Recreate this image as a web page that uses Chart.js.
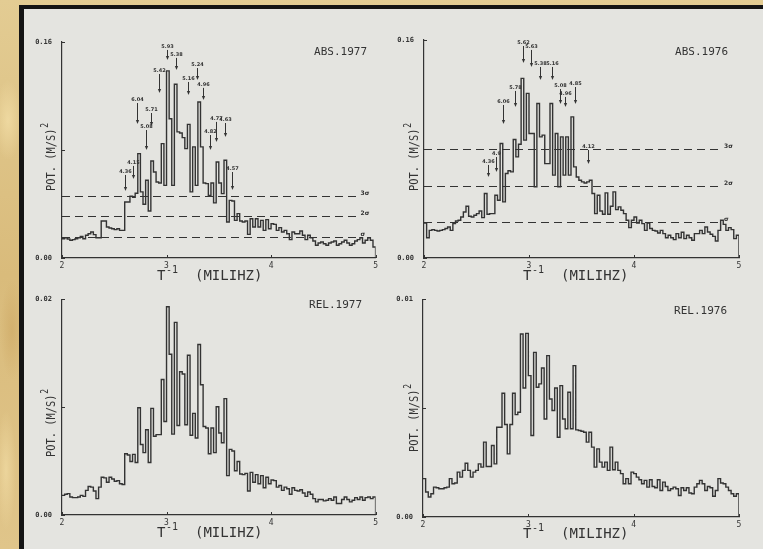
<!DOCTYPE html>
<html>
<head>
<meta charset="utf-8">
<script src="https://cdn.jsdelivr.net/npm/chart.js@4.4.1/dist/chart.umd.min.js"></script>
<style>
  html, body { margin: 0; padding: 0; }
  body {
    width: 763px; height: 549px; position: relative; overflow: hidden;
    background-color: #dcc185;
    background-image:
      radial-gradient(ellipse 14px 40px at 8px 120px, rgba(245,225,170,0.7), transparent),
      radial-gradient(ellipse 12px 50px at 12px 330px, rgba(200,160,90,0.45), transparent),
      radial-gradient(ellipse 10px 60px at 6px 470px, rgba(245,225,170,0.6), transparent),
      linear-gradient(180deg, #e3cc93 0%, #d9bb7b 50%, #e0c58a 100%);
  }
  #frame {
    position: absolute; left: 19px; top: 5px; right: 0; bottom: 0;
    background: #e4e4e0;
    border-left: 5px solid #141414; border-top: 4px solid #141414;
  }
  canvas { position: absolute; }
</style>
</head>
<body>
<div id="frame"></div>
<canvas id="abs1977" width="381" height="285" style="left:0;top:0"></canvas>
<canvas id="abs1976" width="382" height="285" style="left:381px;top:0"></canvas>
<canvas id="rel1977" width="381" height="264" style="left:0;top:285px"></canvas>
<canvas id="rel1976" width="382" height="264" style="left:381px;top:285px"></canvas>
<script>
// frequency axis, mHz: bins of 0.025 from 2 to 5
const F_START = 2, F_END = 5, BIN = 0.025;

// spectral power, one value per bin
const abs1977 = [
  0.0143,0.0150,0.0141,0.0131,0.0136,0.0143,0.0150,0.0160,0.0143,0.0168,
  0.0180,0.0193,0.0173,0.0150,0.0150,0.0274,0.0274,0.0230,0.0222,0.0217,
  0.0210,0.0217,0.0205,0.0205,0.0415,0.0415,0.0457,0.0450,0.0480,0.0773,
  0.0490,0.0398,0.0576,0.0348,0.0719,0.0637,0.0563,0.0556,0.0847,0.0538,
  0.1386,0.1032,0.0538,0.1287,0.0934,0.0926,0.0892,0.0810,0.0990,0.0490,
  0.0823,0.0538,0.1156,0.0823,0.0556,0.0551,0.0464,0.0556,0.0408,0.0711,
  0.0556,0.0477,0.0724,0.0267,0.0427,0.0422,0.0279,0.0329,0.0274,0.0267,
  0.0274,0.0175,0.0291,0.0230,0.0291,0.0230,0.0279,0.0205,0.0284,0.0217,
  0.0254,0.0249,0.0205,0.0225,0.0193,0.0205,0.0180,0.0136,0.0193,0.0180,
  0.0180,0.0200,0.0168,0.0136,0.0168,0.0150,0.0126,0.0094,0.0111,0.0119,
  0.0106,0.0094,0.0111,0.0119,0.0126,0.0094,0.0106,0.0119,0.0131,0.0111,
  0.0094,0.0106,0.0126,0.0136,0.0150,0.0111,0.0131,0.0150,0.0131,0.0082
];
const abs1976 = [
  0.0257,0.0149,0.0203,0.0208,0.0203,0.0198,0.0203,0.0208,0.0216,0.0228,
  0.0203,0.0252,0.0272,0.0277,0.0301,0.0338,0.0380,0.0306,0.0301,0.0314,
  0.0326,0.0345,0.0296,0.0473,0.0321,0.0326,0.0326,0.0461,0.0424,0.0840,
  0.0412,0.0620,0.0640,0.0632,0.0870,0.0742,0.0835,0.1318,0.0865,0.1208,
  0.0914,0.0914,0.0522,0.1134,0.0889,0.0902,0.0693,0.0693,0.1134,0.0608,
  0.0914,0.0522,0.0889,0.0608,0.0889,0.0608,0.1036,0.0669,0.0595,0.0571,
  0.0559,0.0551,0.0559,0.0571,0.0473,0.0326,0.0461,0.0345,0.0321,0.0478,
  0.0321,0.0380,0.0485,0.0355,0.0375,0.0350,0.0326,0.0277,0.0223,0.0277,
  0.0301,0.0257,0.0277,0.0252,0.0203,0.0257,0.0216,0.0203,0.0198,0.0184,
  0.0203,0.0179,0.0149,0.0167,0.0149,0.0135,0.0179,0.0149,0.0189,0.0142,
  0.0167,0.0149,0.0130,0.0179,0.0179,0.0203,0.0179,0.0228,0.0191,0.0174,
  0.0159,0.0125,0.0203,0.0277,0.0247,0.0203,0.0223,0.0208,0.0142,0.0167
];
const rel1977 = [
  0.00182,0.00192,0.00198,0.00167,0.00161,0.00161,0.00167,0.00182,0.00173,0.00228,
  0.00264,0.00258,0.00222,0.00152,0.00258,0.00350,0.00344,0.00304,0.00350,0.00334,
  0.00313,0.00319,0.00289,0.00283,0.00568,0.00556,0.00496,0.00562,0.00486,0.00994,
  0.00654,0.00578,0.00790,0.00486,0.00988,0.00730,0.00745,0.00745,0.01256,0.00866,
  0.01930,0.01490,0.00750,0.01785,0.00830,0.01328,0.01307,0.00836,0.01480,0.00739,
  0.00942,0.00714,0.01580,0.01207,0.00820,0.00806,0.00568,0.00806,0.00578,0.01003,
  0.00760,0.00669,0.01079,0.00365,0.00608,0.00593,0.00410,0.00496,0.00380,0.00374,
  0.00386,0.00222,0.00395,0.00304,0.00374,0.00289,0.00365,0.00252,0.00350,0.00289,
  0.00325,0.00319,0.00258,0.00274,0.00228,0.00258,0.00243,0.00192,0.00252,0.00228,
  0.00222,0.00234,0.00204,0.00173,0.00213,0.00192,0.00152,0.00122,0.00143,0.00143,
  0.00131,0.00137,0.00152,0.00137,0.00167,0.00106,0.00106,0.00143,0.00167,0.00143,
  0.00122,0.00137,0.00161,0.00143,0.00167,0.00137,0.00161,0.00167,0.00152,0.00167
];
const rel1976 = [
  0.00176,0.00115,0.00092,0.00107,0.00137,0.00134,0.00130,0.00130,0.00134,0.00137,
  0.00176,0.00153,0.00156,0.00206,0.00183,0.00214,0.00247,0.00214,0.00183,0.00206,
  0.00214,0.00244,0.00229,0.00344,0.00232,0.00232,0.00328,0.00244,0.00412,0.00412,
  0.00568,0.00425,0.00290,0.00425,0.00568,0.00470,0.00481,0.00840,0.00592,0.00843,
  0.00649,0.00374,0.00756,0.00596,0.00611,0.00684,0.00450,0.00741,0.00542,0.00489,
  0.00592,0.00366,0.00603,0.00450,0.00405,0.00573,0.00405,0.00695,0.00400,0.00397,
  0.00394,0.00389,0.00344,0.00389,0.00321,0.00229,0.00313,0.00252,0.00229,0.00252,
  0.00214,0.00321,0.00217,0.00252,0.00214,0.00199,0.00153,0.00176,0.00153,0.00206,
  0.00199,0.00183,0.00171,0.00153,0.00168,0.00137,0.00171,0.00140,0.00134,0.00171,
  0.00122,0.00160,0.00140,0.00122,0.00130,0.00137,0.00130,0.00099,0.00134,0.00122,
  0.00134,0.00110,0.00107,0.00137,0.00153,0.00168,0.00153,0.00122,0.00140,0.00134,
  0.00095,0.00122,0.00176,0.00156,0.00153,0.00137,0.00122,0.00107,0.00095,0.00107
];

// y axis tops
const yMaxAbs = 0.16, yMaxRel1977 = 0.02, yMaxRel1976 = 0.01;

// noise levels (sigma, 2 sigma, 3 sigma)
const sigmaNames = ['\u03c3', '2\u03c3', '3\u03c3'];
const sigma1977 = [0.0156, 0.0311, 0.0462];
const sigma1976 = [0.0264, 0.0528, 0.0800];

// marked peaks: label (period, min), frequency, arrow tip and tail power
const peakLabels1977 = ['4.36','4.15','6.04','5.08','5.71','5.42','5.93','5.38','5.16','5.24','4.96','4.82','4.77','4.63','4.57'];
const peakFreq1977   = [2.600,2.676,2.714,2.800,2.848,2.924,3.000,3.095,3.210,3.295,3.352,3.419,3.476,3.562,3.629];
const peakTip1977    = [0.0496,0.0585,0.0993,0.0800,0.0978,0.1222,0.1467,0.1393,0.1208,0.1319,0.1170,0.0800,0.0859,0.0896,0.0504];
const peakTail1977   = [0.0615,0.0682,0.1148,0.0948,0.1074,0.1363,0.1541,0.1482,0.1304,0.1407,0.1260,0.0911,0.1008,0.1000,0.0637];

const peakLabels1976 = ['4.36','4.9','6.06','5.78','5.62','5.63','5.38','5.16','5.08','4.96','4.85','4.12'];
const peakFreq1976   = [2.610,2.686,2.752,2.867,2.943,3.019,3.100,3.220,3.295,3.343,3.438,3.562];
const peakTip1976    = [0.0594,0.0631,0.0984,0.1109,0.1431,0.1402,0.1306,0.1306,0.1130,0.1109,0.1130,0.0690];
const peakTail1976   = [0.0683,0.0741,0.1123,0.1226,0.1556,0.1527,0.1402,0.1402,0.1240,0.1182,0.1255,0.0793];

const INK = '#333333';
const MONO = '"DejaVu Sans Mono", monospace';

function steps(values) {
  const pts = values.map((v, i) => ({ x: F_START + i * BIN, y: v }));
  pts.push({ x: F_END, y: values[values.length - 1] });
  pts.push({ x: F_END, y: 0 });
  return pts;
}

const decor = {
  id: 'decor',
  afterDraw(chart, args, o) {
    const { ctx, chartArea: a, scales: { x, y } } = chart;
    ctx.save();
    ctx.strokeStyle = INK;
    ctx.fillStyle = INK;
    ctx.lineWidth = 1;

    // small inward ticks
    y.ticks.forEach(t => {
      const py = Math.round(y.getPixelForValue(t.value)) + 0.5;
      ctx.beginPath(); ctx.moveTo(a.left, py); ctx.lineTo(a.left + 3, py); ctx.stroke();
    });
    x.ticks.forEach(t => {
      const px = Math.round(x.getPixelForValue(t.value)) + 0.5;
      ctx.beginPath(); ctx.moveTo(px, a.bottom); ctx.lineTo(px, a.bottom - 3); ctx.stroke();
    });

    // noise level lines
    if (o.sigma) {
      const xEnd = a.right - 19;
      ctx.setLineDash([8, 5]);
      ctx.lineWidth = 1.1;
      o.sigma.forEach(lv => {
        const py = Math.round(y.getPixelForValue(lv)) + 0.5;
        ctx.beginPath(); ctx.moveTo(a.left, py); ctx.lineTo(xEnd, py); ctx.stroke();
      });
      ctx.setLineDash([]);
      ctx.font = 'bold 6px "DejaVu Sans"';
      ctx.textAlign = 'left';
      ctx.textBaseline = 'alphabetic';
      o.sigma.forEach((lv, k) => {
        ctx.fillText(sigmaNames[k], xEnd + 4, y.getPixelForValue(lv) - 1);
      });
    }

    // peak arrows
    if (o.peaks) {
      const p = o.peaks;
      ctx.font = 'bold 5px "DejaVu Sans"';
      ctx.textAlign = 'center';
      ctx.textBaseline = 'alphabetic';
      ctx.lineWidth = 1;
      p.labels.forEach((lab, i) => {
        const px = Math.round(x.getPixelForValue(p.freq[i])) + 0.5;
        const ty = y.getPixelForValue(p.tip[i]);
        const sy = y.getPixelForValue(p.tail[i]);
        ctx.beginPath(); ctx.moveTo(px, sy); ctx.lineTo(px, ty - 3); ctx.stroke();
        ctx.beginPath(); ctx.moveTo(px - 1.6, ty - 4); ctx.lineTo(px + 1.6, ty - 4); ctx.lineTo(px, ty); ctx.closePath(); ctx.fill();
        ctx.fillText(lab, px, sy - 2);
      });
    }

    // panel label
    ctx.font = '11px ' + MONO;
    ctx.textAlign = 'right';
    ctx.textBaseline = 'middle';
    ctx.fillText(o.label, o.labelAt[0], o.labelAt[1]);

    // x title: T^-1 (MILIHZ)
    ctx.textAlign = 'left';
    const [tx, ty] = o.xTitleAt;
    ctx.font = '14px ' + MONO;
    ctx.fillText('T', tx, ty);
    ctx.font = '10px ' + MONO;
    ctx.fillText('-1', tx + 9, ty - 6);
    ctx.font = '14px ' + MONO;
    ctx.fillText('(MILIHZ)', tx + 38, ty);

    // y title: POT. (M/S)^2, rotated and condensed
    const [yx, yy] = o.yTitleAt;
    ctx.translate(yx, yy);
    ctx.rotate(-Math.PI / 2);
    ctx.scale(0.8, 1);
    ctx.font = '13px ' + MONO;
    const main = 'POT. (M/S)';
    const w = ctx.measureText(main).width;
    ctx.font = '10px ' + MONO;
    const ws = ctx.measureText('2').width;
    const x0 = -(w + ws + 1) / 2;
    ctx.font = '13px ' + MONO;
    ctx.fillText(main, x0, 0);
    ctx.font = '10px ' + MONO;
    ctx.fillText('2', x0 + w + 1, -7);
    ctx.restore();
  }
};

function panel(id, box, values, yMax, deco) {
  new Chart(document.getElementById(id), {
    type: 'line',
    data: {
      datasets: [{
        data: steps(values),
        stepped: 'before',
        borderColor: INK,
        borderWidth: 1.4,
        pointRadius: 0,
        fill: false
      }]
    },
    options: {
      responsive: false,
      animation: false,
      events: [],
      layout: { padding: { top: box.top, right: box.right, left: 0, bottom: 0 } },
      plugins: { legend: { display: false }, tooltip: { enabled: false }, decor: deco },
      scales: {
        x: {
          type: 'linear', min: F_START, max: F_END,
          afterFit: s => { s.height = box.xh; },
          grid: { display: true, drawOnChartArea: false, drawTicks: false },
          border: { color: INK, width: 1.2 },
          ticks: {
            stepSize: 1, padding: 3, color: INK, maxRotation: 0, autoSkip: false,
            font: { family: MONO, size: 8 },
            callback: v => String(v)
          }
        },
        y: {
          type: 'linear', min: 0, max: yMax,
          afterFit: s => { s.width = box.left; },
          grid: { display: true, drawOnChartArea: false, drawTicks: false },
          border: { color: INK, width: 1.2 },
          ticks: {
            stepSize: yMax / 2, padding: 10, color: INK,
            font: { family: MONO, size: 7, weight: 'bold' },
            callback: v => Math.abs(v - yMax / 2) < 1e-9 ? '' : v.toFixed(2)
          }
        }
      }
    },
    plugins: [decor]
  });
}

panel('abs1977', { left: 62, top: 42, right: 4, xh: 27 }, abs1977, yMaxAbs, {
  label: 'ABS.1977', labelAt: [367, 52], xTitleAt: [157, 276], yTitleAt: [52, 157],
  sigma: sigma1977,
  peaks: { labels: peakLabels1977, freq: peakFreq1977, tip: peakTip1977, tail: peakTail1977 }
});
panel('abs1976', { left: 43, top: 40, right: 24, xh: 27 }, abs1976, yMaxAbs, {
  label: 'ABS.1976', labelAt: [347, 52], xTitleAt: [142, 276], yTitleAt: [34, 157],
  sigma: sigma1976,
  peaks: { labels: peakLabels1976, freq: peakFreq1976, tip: peakTip1976, tail: peakTail1976 }
});
panel('rel1977', { left: 62, top: 11, right: 4, xh: 34 }, rel1977, yMaxRel1977, {
  label: 'REL.1977', labelAt: [362, 20], xTitleAt: [157, 248], yTitleAt: [52, 138]
});
panel('rel1976', { left: 42, top: 13, right: 24, xh: 32 }, rel1976, yMaxRel1976, {
  label: 'REL.1976', labelAt: [346, 26], xTitleAt: [142, 249], yTitleAt: [34, 133]
});
</script>
</body>
</html>
